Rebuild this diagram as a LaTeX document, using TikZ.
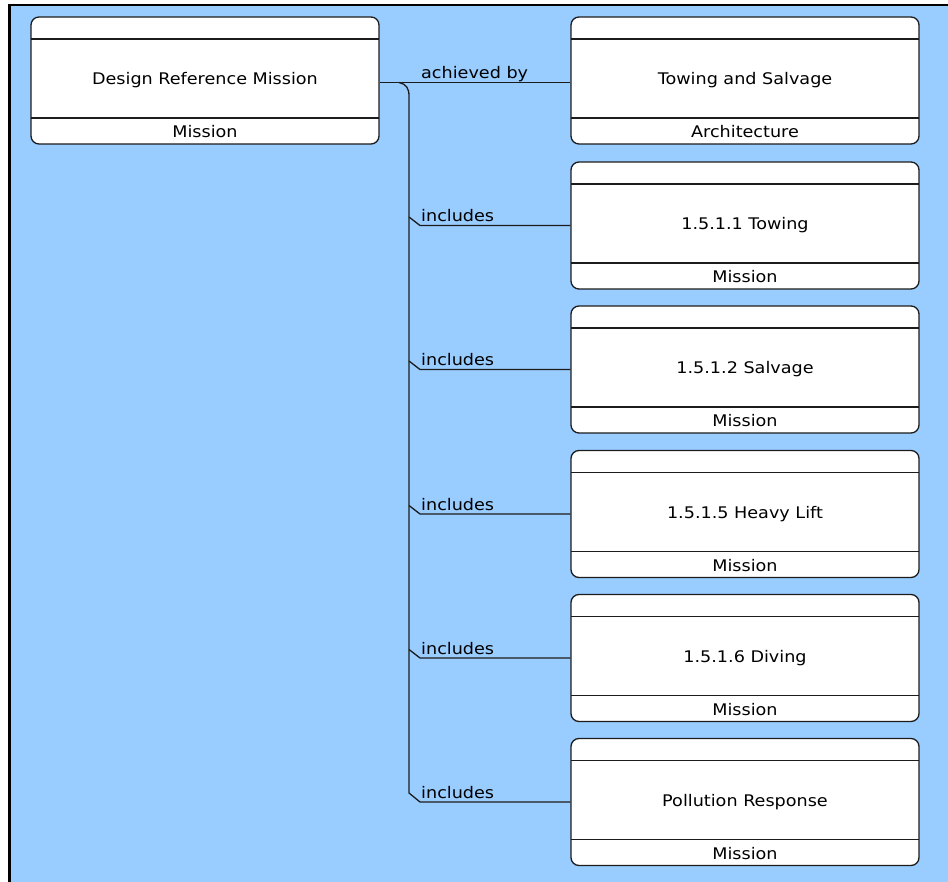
\documentclass[tikz,border=0pt]{standalone}
\usepackage{fontspec}
\setmainfont{DejaVu Sans}[FakeStretch=1.1]
\definecolor{bgblue}{HTML}{99CCFF}
\definecolor{ink}{HTML}{1C1C1C}
\tikzset{
  box/.style={draw=ink, fill=white, rounded corners=8pt, line width=1.3pt,
    minimum width=348pt, minimum height=127pt, inner sep=0pt,
    font=\fontsize{16}{18}\selectfont,
    path picture={
      \draw[ink, line width=1.3pt] ([yshift=-22pt]path picture bounding box.north west) -- ([yshift=-22pt]path picture bounding box.north east);
      \draw[ink, line width=1.3pt] ([yshift=26pt]path picture bounding box.south west) -- ([yshift=26pt]path picture bounding box.south east);
    }},
  foot/.style={inner sep=0pt, font=\fontsize{16}{18}\selectfont},
  lbl/.style={inner sep=0pt, anchor=base west, font=\fontsize{16}{18}\selectfont},
  conn/.style={draw=ink, line width=1.3pt},
}
\begin{document}
\begin{tikzpicture}[x=1pt,y=-1pt]
\useasboundingbox (0,0) rectangle (948,882);
\fill[bgblue] (10,6) rectangle (948,882);
\fill[black] (8,4) rectangle (10.5,882);
\fill[black] (8,4) rectangle (948,6.5);

% nodes
\node[box] (drm) at (205,80.5) {Design Reference Mission};
\node[foot] (drmf) at ([yshift=13pt]drm.south) {Mission};

\node[box] (ts) at (745,80.5) {Towing and Salvage};
\node[foot] (tsf) at ([yshift=13pt]ts.south) {Architecture};

\node[box] (tow) at (745,225.5) {1.5.1.1 Towing};
\node[foot] (towf) at ([yshift=13pt]tow.south) {Mission};

\node[box] (sal) at (745,369.5) {1.5.1.2 Salvage};
\node[foot] (salf) at ([yshift=13pt]sal.south) {Mission};

\node[box] (hl) at (745,514) {1.5.1.5 Heavy Lift};
\node[foot] (hlf) at ([yshift=13pt]hl.south) {Mission};

\node[box] (div) at (745,658) {1.5.1.6 Diving};
\node[foot] (divf) at ([yshift=13pt]div.south) {Mission};

\node[box] (pr) at (745,802) {Pollution Response};
\node[foot] (prf) at ([yshift=13pt]pr.south) {Mission};

% connectors
\draw[conn] ([yshift=-2pt]drm.east) -- ([yshift=-2pt]ts.west);
\coordinate (t0) at (399,82.5);
\coordinate (t1) at (409,96);
\coordinate (j1) at (409,217);
\coordinate (j2) at (409,361);
\coordinate (j3) at (409,505.5);
\coordinate (j4) at (409,649.5);
\coordinate (j5) at (409,793);
\draw[conn] (t0) .. controls (406,84) and (409,88) .. (t1) -- (j5) -- (420,802) -- (pr.west);
\draw[conn] (j1) -- (420,225.5) -- (tow.west);
\draw[conn] (j2) -- (420,369.5) -- (sal.west);
\draw[conn] (j3) -- (420,514) -- (hl.west);
\draw[conn] (j4) -- (420,658) -- (div.west);

% labels
\node[lbl] (lab0) at (421,79) {achieved by};
\node[lbl] (lab1) at (421,222) {includes};
\node[lbl] (lab2) at (421,366) {includes};
\node[lbl] (lab3) at (421,510.5) {includes};
\node[lbl] (lab4) at (421,654.5) {includes};
\node[lbl] (lab5) at (421,798.5) {includes};
\end{tikzpicture}
\end{document}
